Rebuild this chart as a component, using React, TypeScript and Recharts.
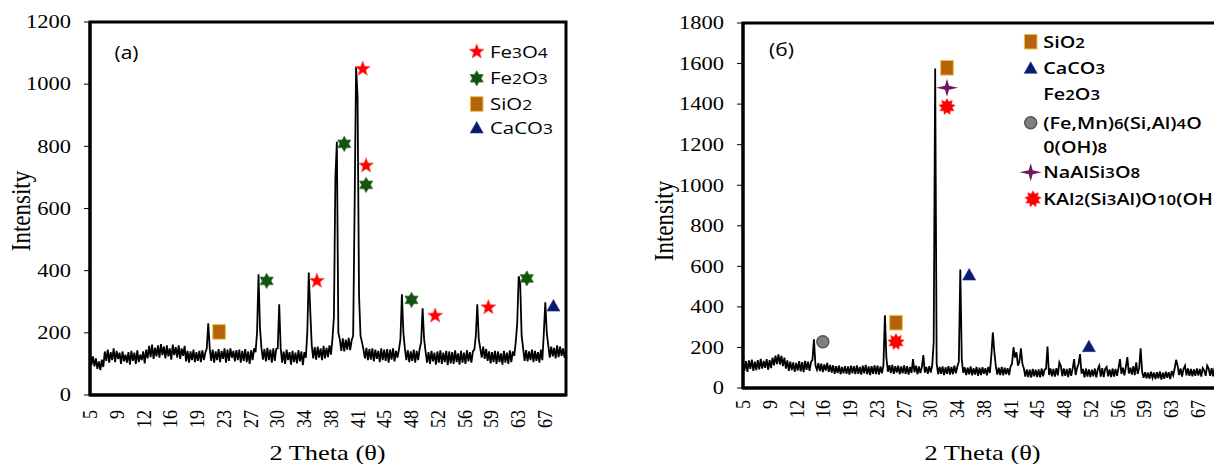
import React from 'react';
import { ComposedChart, Line, Scatter, XAxis, YAxis, ReferenceArea } from 'recharts';

const SERIF = "'Liberation Serif', 'Times New Roman', serif";
const SANS = "'Open Sans', 'DejaVu Sans', sans-serif";

const THETA_START = 5;
const THETA_STEP = 0.2;
const THETA_END = 69.4;

const xTickPositions = [5, 8.62, 12.24, 15.86, 19.48, 23.1, 26.72, 30.34, 33.96, 37.58, 41.2, 44.82, 48.44, 52.06, 55.68, 59.3, 62.92, 66.54];
const xTickLabels = ['5', '9', '12', '16', '19', '23', '27', '30', '34', '38', '41', '45', '48', '52', '56', '59', '63', '67'];

const yTicksA = [0, 200, 400, 600, 800, 1000, 1200];
const yTicksB = [0, 200, 400, 600, 800, 1000, 1200, 1400, 1600, 1800];

// Panel (a): intensity every 0.2 deg from 5.0 to 69.4
const intensityA = [
  130,96,124,92,118, 84,108,80,114,90, 140,110,146,104,138, 112,150,106,142,116, 136,100,140,108,130,
  104,138,98,142,110, 136,100,144,106,130, 112,140,102,146,118, 158,122,162,116,152, 124,160,120,164,128,
  156,118,160,124,150, 114,162,128,154,120, 160,116,150,126,158, 108,142,104,140,112, 146,106,138,110,142,
  106,144,112,136,150, 231,150,110,146,104, 140,112,148,106,142, 116,150,104,146,110, 150,120,142,108,144,
  112,146,104,142,110, 148,106,140,100,144, 112,150,138,200,388, 215,150,114,148,108, 152,112,146,104,150,
  110,148,150,292,150, 104,140,100,146,112, 138,98,142,106,136, 102,144,108,140,96, 138,120,200,394,270,
  160,118,154,114,156, 120,150,112,158,118, 152,122,160,130,180, 250,700,815,200,178, 142,182,140,178,146,
  184,144,176,190,600, 1057,960,320,190,170, 146,118,152,112,148, 114,150,108,146,116, 142,106,150,112,146,
  110,148,104,146,114, 150,108,142,120,146, 180,324,200,150,112, 144,106,140,110,146, 104,142,112,148,170,
  279,180,140,104,138, 100,142,108,136,98, 140,104,144,100,136, 106,142,96,140,102, 138,100,144,106,134,
  98,142,104,136,100, 144,108,138,104,140, 146,190,292,180,150, 120,156,116,148,110, 140,102,138,106,142,
  100,140,106,134,98, 142,104,136,100,144, 106,140,126,170,230, 382,360,190,150,110, 144,108,140,112,146,
  106,142,110,138,104, 146,112,200,298,200, 160,120,156,124,152, 118,160,122,156,126, 150,120,148,
];

// Panel (б): intensity every 0.2 deg from 5.0 to 69.4
const intensityB = [
  128,86,132,80,136, 94,140,84,130,88, 138,92,144,96,134, 100,142,90,138,98, 150,112,160,118,166,
  116,158,108,150,96, 136,84,130,88,126, 80,124,86,132,82, 128,78,134,90,130, 84,128,140,240,112,
  90,122,84,120,78, 116,86,124,80,114, 76,112,70,108,74, 110,68,104,72,108, 70,106,66,110,72,
  108,68,112,70,104, 66,110,72,114,68, 106,64,108,70,112, 68,110,66,106,72, 112,358,150,80,112,
  74,114,70,108,76, 110,68,106,72,112, 70,108,66,104,74, 142,78,110,68,106, 74,104,162,76,104,
  70,108,76,112,225, 1576,120,68,104,70, 106,64,102,70,108, 66,104,68,110,72, 106,130,584,140,74,
  102,64,100,68,106, 62,98,66,104,60, 100,64,102,70,98, 62,104,74,160,274, 180,110,66,100,64,
  104,62,100,68,98, 64,106,120,201,150, 176,110,130,196,120, 96,56,92,54,90, 52,94,58,90,54,
  92,52,96,58,90, 96,204,64,96,58, 94,56,98,62,126, 110,58,96,60,94, 54,98,60,96,142,
  64,98,120,167,70, 94,52,96,56,92, 54,90,58,96,52, 92,110,56,98,54, 94,104,58,92,54,
  96,56,94,60,98, 142,70,100,62,104, 152,72,100,66,108, 64,127,70,98,196, 80,50,78,48,76,
  46,80,50,76,44, 78,48,82,42,76, 46,80,50,78,44, 84,62,96,139,110, 64,96,56,94,110,
  62,96,60,94,58, 92,60,96,62,94, 56,98,86,60,110, 96,60,98,58,100, 62,96,64,
];

// Phase markers [2theta, intensity]
const aFe3O4 = [[35.7, 367], [41.9, 1049], [42.35, 738], [51.7, 255], [58.9, 282]];
const aFe2O3 = [[28.9, 367], [39.4, 808], [42.35, 676], [48.5, 306], [64.1, 375]];
const aSiO2 = [[22.46, 203]];
const aCaCO3 = [[67.7, 286]];

const bSiO2 = [[25.7, 322], [32.6, 1579]];
const bCaCO3 = [[35.6, 557], [51.8, 204]];
const bChlorite = [[15.8, 228]];
const bAlbite = [[32.6, 1481]];
const bMuscovite = [[25.7, 228], [32.6, 1387]];

const legendALabels = ['Fe_3O_4', 'Fe_2O_3', 'SiO_2', 'CaCO_3'];
const legendAKinds = ['star5', 'star6', 'square', 'triangle'];
const legendBLabels = ['SiO_2', 'CaCO_3', 'Fe_2O_3', '(Fe,Mn)_6(Si,Al)_4O', '0(OH)_8', 'NaAlSi_3O_8', 'KAl_2(Si_3Al)O_1_0(OH'];
const legendBKinds = ['square', 'triangle', 'none', 'circle', 'none', 'star4', 'burst'];

const toSeries = (vals: number[]) => vals.map((v, i) => ({ x: +(THETA_START + i * THETA_STEP).toFixed(1), y: v }));
const toPoints = (pairs: number[][]) => pairs.map(([x, y]) => ({ x, y }));

function starPts(cx: number, cy: number, n: number, R: number, r: number) {
  const pts: string[] = [];
  for (let i = 0; i < n * 2; i++) {
    const rad = i % 2 === 0 ? R : r;
    const a = -Math.PI / 2 + (i * Math.PI) / n;
    pts.push(`${(cx + rad * Math.cos(a)).toFixed(2)},${(cy + rad * Math.sin(a)).toFixed(2)}`);
  }
  return pts.join(' ');
}

function Marker({ kind, cx, cy }: { kind: string; cx: number; cy: number }) {
  if (cx == null || cy == null) return null;
  switch (kind) {
    case 'star5':
      return <polygon points={starPts(cx, cy, 5, 7.8, 3.3)} fill="#ff0000" stroke="#ff5a5a" strokeWidth={0.8} />;
    case 'star6':
      return <polygon points={starPts(cx, cy, 6, 7.6, 4.4)} fill="#145214" stroke="#3f7f2f" strokeWidth={0.8} />;
    case 'square':
      return <rect x={cx - 6.3} y={cy - 7.3} width={12.6} height={14.6} fill="#b4620c" stroke="#e6c24a" strokeWidth={1} />;
    case 'triangle':
      return <polygon points={`${cx},${cy - 6.5} ${cx + 6.5},${cy + 5} ${cx - 6.5},${cy + 5}`} fill="#0b1c6e" stroke="#1b2f90" strokeWidth={0.6} />;
    case 'circle':
      return <circle cx={cx} cy={cy} r={6} fill="#808080" stroke="#555" strokeWidth={1.5} />;
    case 'star4':
      return (
        <polygon
          points={`${cx},${cy - 9} ${cx + 2},${cy - 2} ${cx + 11},${cy} ${cx + 2},${cy + 2} ${cx},${cy + 9} ${cx - 2},${cy + 2} ${cx - 11},${cy} ${cx - 2},${cy - 2}`}
          fill="#6a1a5e"
        />
      );
    case 'burst':
      return <polygon points={starPts(cx, cy, 9, 8.2, 5.2)} fill="#ff0000" stroke="#ff3030" strokeWidth={0.6} />;
    default:
      return null;
  }
}

function chem(s: string, small: number) {
  const out: React.ReactNode[] = [];
  let buf = '';
  for (let i = 0; i < s.length; i++) {
    if (s[i] === '_' && i + 1 < s.length) {
      if (buf) { out.push(<tspan key={out.length}>{buf}</tspan>); buf = ''; }
      out.push(<tspan key={out.length} fontSize={small}>{s[i + 1]}</tspan>);
      i++;
    } else {
      buf += s[i];
    }
  }
  if (buf) out.push(<tspan key={out.length}>{buf}</tspan>);
  return out;
}

const YTick = (props: any) => {
  const { x, y, payload } = props;
  return (
    <text transform={`translate(${x - 13},${y}) scale(1.25,1)`} textAnchor="end" dy="0.35em" fontFamily={SERIF} fontSize={18} fill="#000">
      {payload.value}
    </text>
  );
};

const makeXTick = (gap: number) => (props: any) => {
  const { x, y, payload } = props;
  const idx = xTickPositions.indexOf(payload.value);
  const label = idx >= 0 ? xTickLabels[idx] : String(payload.value);
  return (
    <text transform={`translate(${x},${y + gap}) scale(1.12,1) rotate(-90)`} textAnchor="end" dy="0.35em" fontFamily={SERIF} fontSize={18} fill="#000">
      {label}
    </text>
  );
};

type SeriesDef = { kind: string; pts: number[][] };

function Panel({ values, series, yMax, yTicks, marginTop, xAxisHeight, tickGap }: {
  values: number[]; series: SeriesDef[]; yMax: number; yTicks: number[]; marginTop: number; xAxisHeight: number; tickGap: number;
}) {
  const data = toSeries(values);
  return (
    <ComposedChart width={600} height={464} margin={{ top: marginTop, right: 34, bottom: 0, left: 0 }}>
      <XAxis
        type="number"
        dataKey="x"
        domain={[THETA_START, THETA_END]}
        ticks={xTickPositions}
        interval={0}
        allowDataOverflow
        height={xAxisHeight}
        tickLine={false}
        tickSize={0}
        tickMargin={0}
        axisLine={{ stroke: '#000', strokeWidth: 3 }}
        tick={makeXTick(tickGap)}
      />
      <YAxis
        type="number"
        dataKey="y"
        domain={[0, yMax]}
        ticks={yTicks}
        interval={0}
        allowDataOverflow
        width={90}
        tickSize={6}
        tickMargin={0}
        tickLine={{ stroke: '#000', strokeWidth: 1 }}
        axisLine={{ stroke: '#000', strokeWidth: 3 }}
        tick={YTick}
      />
      <ReferenceArea x1={THETA_START} x2={THETA_END} y1={0} y2={yMax} fill="none" fillOpacity={0} stroke="#000" strokeWidth={3} ifOverflow="visible" />
      <Line data={data} dataKey="y" type="linear" stroke="#000" strokeWidth={1.8} dot={false} activeDot={false} isAnimationActive={false} />
      {series.map((s, i) => (
        <Scatter
          key={i}
          data={toPoints(s.pts)}
          dataKey="y"
          isAnimationActive={false}
          shape={(p: any) => <Marker kind={s.kind} cx={p.cx} cy={p.cy} />}
        />
      ))}
    </ComposedChart>
  );
}

function StretchText({ x, y, size, family, weight, anchor, children }: any) {
  return (
    <text transform={`translate(${x},${y}) scale(1.2,1)`} textAnchor={anchor || 'start'} fontFamily={family} fontSize={size} fontWeight={weight || 400} fill="#000">
      {children}
    </text>
  );
}

function Overlay() {
  const rowsA = [51.7, 78.3, 104, 128];
  const rowsB = [41.7, 68.3, 94.3, 122.7, 146.7, 172.3, 199];
  return (
    <svg width={1214} height={464} style={{ position: 'absolute', left: 0, top: 0, pointerEvents: 'none' }}>
      <StretchText x={126.5} y={59} size={17.5} family={SANS} anchor="middle">(a)</StretchText>
      <StretchText x={781.5} y={56} size={17.5} family={SANS} anchor="middle">(б)</StretchText>
      <text transform="translate(30,211) scale(1.2,1) rotate(-90)" textAnchor="middle" fontFamily={SERIF} fontSize={23} fill="#000">Intensity</text>
      <text transform="translate(673,221) scale(1.2,1) rotate(-90)" textAnchor="middle" fontFamily={SERIF} fontSize={23} fill="#000">Intensity</text>
      <StretchText x={327.5} y={460} size={22} family={SERIF} anchor="middle">2 Theta (θ)</StretchText>
      <StretchText x={982.5} y={460} size={22} family={SERIF} anchor="middle">2 Theta (θ)</StretchText>
      {legendALabels.map((lab, i) => (
        <g key={'la' + i}>
          <Marker kind={legendAKinds[i]} cx={476.7} cy={rowsA[i]} />
          <StretchText x={490} y={rowsA[i] + 6} size={17} family={SANS}>{chem(lab, 14.5)}</StretchText>
        </g>
      ))}
      {legendBLabels.map((lab, i) => (
        <g key={'lb' + i}>
          <Marker kind={legendBKinds[i]} cx={legendBKinds[i] === 'burst' ? 1033 : 1030.7} cy={rowsB[i]} />
          <StretchText x={1043.3} y={rowsB[i] + 6} size={16.5} family={SANS} weight={600}>{chem(lab, 14)}</StretchText>
        </g>
      ))}
    </svg>
  );
}

export default function App() {
  const seriesA: SeriesDef[] = [
    { kind: 'star5', pts: aFe3O4 },
    { kind: 'star6', pts: aFe2O3 },
    { kind: 'square', pts: aSiO2 },
    { kind: 'triangle', pts: aCaCO3 },
  ];
  const seriesB: SeriesDef[] = [
    { kind: 'square', pts: bSiO2 },
    { kind: 'triangle', pts: bCaCO3 },
    { kind: 'circle', pts: bChlorite },
    { kind: 'star4', pts: bAlbite },
    { kind: 'burst', pts: bMuscovite },
  ];
  return (
    <div style={{ position: 'fixed', left: 0, top: 0, width: 1214, height: 464, overflow: 'hidden', background: '#fff' }}>
      <div style={{ position: 'absolute', left: 0, top: 0 }}>
        <Panel values={intensityA} series={seriesA} yMax={1200} yTicks={yTicksA} marginTop={22} xAxisHeight={69} tickGap={15} />
      </div>
      <div style={{ position: 'absolute', left: 653, top: 0 }}>
        <Panel values={intensityB} series={seriesB} yMax={1800} yTicks={yTicksB} marginTop={23} xAxisHeight={76} tickGap={12} />
      </div>
      <Overlay />
    </div>
  );
}
